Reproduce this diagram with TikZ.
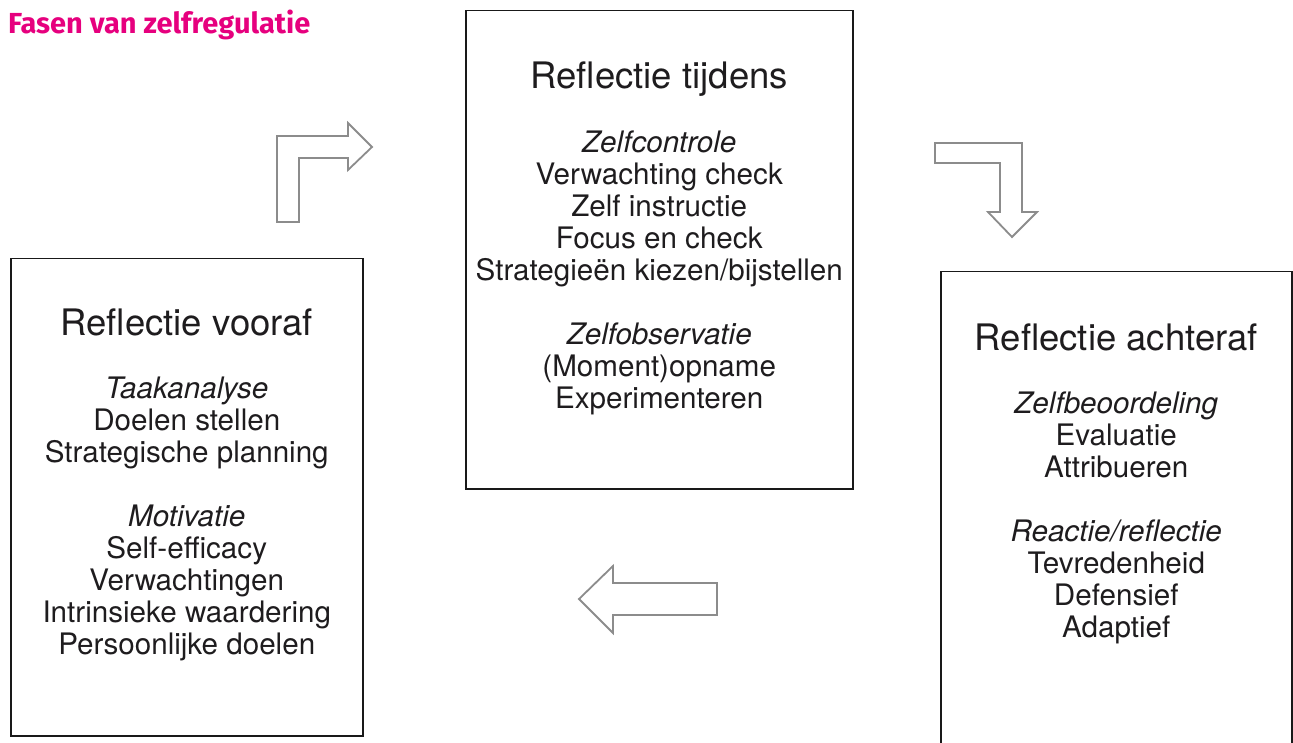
\documentclass[tikz,border=0pt]{standalone}
\usepackage{fontspec}
\setmainfont{TeX Gyre Heros}
\newfontfamily\titelfont{Fira Sans}
\usepackage{xcolor}
\usepackage{tikz}
\usetikzlibrary{positioning}
\definecolor{fasenroze}{RGB}{230,0,126}
\definecolor{pijlgrijs}{RGB}{140,140,140}
\definecolor{tekstzwart}{RGB}{30,28,30}
\tikzstyle{blok} = [rectangle,
anchor=north west,
draw=black!90,
line width=1.5pt]
\tikzstyle{kop} = [font=\fontsize{36.5}{40}\selectfont,
text=tekstzwart,
inner sep=0pt,
anchor=base]
\tikzstyle{lijst} = [font=\fontsize{29.6}{32}\selectfont,
text=tekstzwart,
align=center,
inner sep=0pt]
\tikzstyle{blokpijl} = [draw=pijlgrijs,
line width=1.8pt,
fill=white,
line join=miter]

\begin{document}
\begin{tikzpicture}[x=1pt, y=-1pt]
    \useasboundingbox (0,0) rectangle (1293,743);
    \clip (0,0) rectangle (1293,743);
    \node (titel) [anchor=base west, inner sep=0pt, text=fasenroze, font=\titelfont\bfseries\fontsize{29}{32}\selectfont] at (8,34) {Fasen van zelfregulatie};

    \node (vooraf) [blok, minimum width=352pt, minimum height=477pt] at (10,258) {};
    \node (tijdens) [blok, minimum width=387pt, minimum height=478pt] at (465,10) {};
    \node (achteraf) [blok, minimum width=351pt, minimum height=500pt] at (940,271) {};

    \node (voorafkop) [kop] at ([yshift=-77pt]vooraf.north) {Reflectie vooraf};
    \node (tijdenskop) [kop] at ([yshift=-79pt]tijdens.north) {Reflectie tijdens};
    \node (achterafkop) [kop] at ([yshift=-79pt]achteraf.north) {Reflectie achteraf};

    \node (voorafl) [lijst, below=42pt of voorafkop.base] {\textit{Taakanalyse}\\Doelen stellen\\Strategische planning\\[32pt]\textit{Motivatie}\\Self-efficacy\\Verwachtingen\\Intrinsieke waardering\\Persoonlijke doelen};
    \node (tijdensl) [lijst, below=42pt of tijdenskop.base] {\textit{Zelfcontrole}\\Verwachting check\\Zelf instructie\\Focus en check\\Strategieën kiezen/bijstellen\\[32pt]\textit{Zelfobservatie}\\(Moment)opname\\Experimenteren};
    \node (achterafl) [lijst, below=42pt of achterafkop.base] {\textit{Zelfbeoordeling}\\Evaluatie\\Attribueren\\[32pt]\textit{Reactie/reflectie}\\Tevredenheid\\Defensief\\Adaptief};

    \draw [blokpijl] (277,222) -- (277,136) -- (348,136) -- (348,123) -- (372,147) -- (348,170) -- (348,158) -- (299,158) -- (299,222) -- cycle;
    \draw [blokpijl] (935,143) -- (1022,143) -- (1022,212) -- (1037,212) -- (1012,237) -- (988,212) -- (1000,212) -- (1000,163) -- (935,163) -- cycle;
    \draw [blokpijl] (717,583) -- (717,615) -- (613,615) -- (613,633) -- (579,599) -- (613,566) -- (613,583) -- cycle;
\end{tikzpicture}
\end{document}
